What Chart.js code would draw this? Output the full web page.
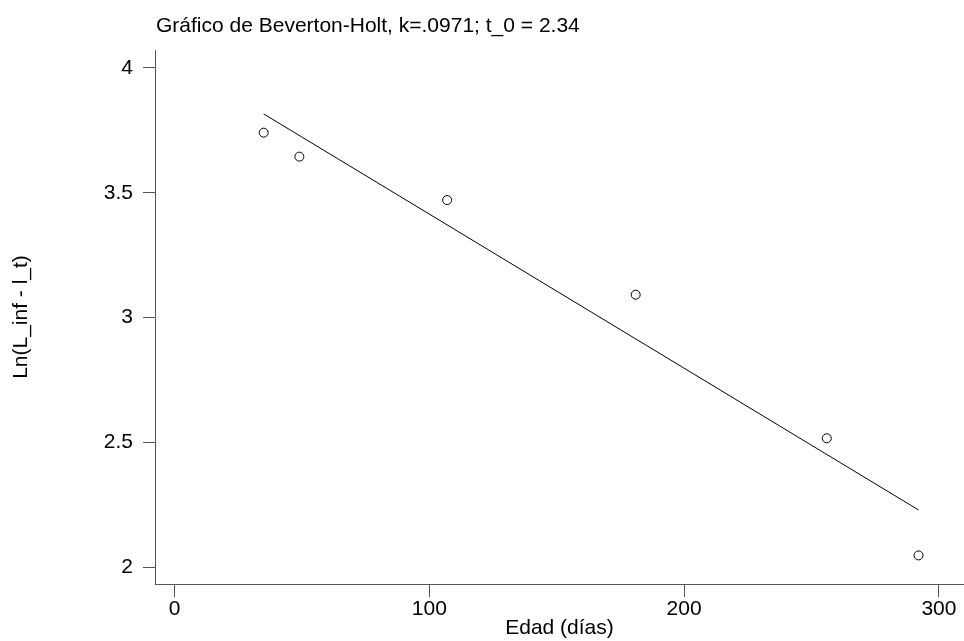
<!DOCTYPE html>
<html>
<head>
<meta charset="utf-8">
<script src="https://cdn.jsdelivr.net/npm/chart.js@4/dist/chart.umd.min.js"></script>
<style>
  html, body { margin: 0; padding: 0; background: #fff; }
</style>
</head>
<body>
<canvas id="chart" width="964" height="641"></canvas>
<script>
// observed ages and log residual lengths
const edad = [35, 49, 107, 181, 256, 292];
const lnResid = [3.741, 3.645, 3.471, 3.092, 2.517, 2.048];

// fitted line, end points
const fitEdad = [35, 292];
const fitLn = [3.816, 2.230];

const xTicks = [0, 100, 200, 300];
const yTicks = [2, 2.5, 3, 3.5, 4];

const titleText = 'Gráfico de Beverton-Holt, k=.0971; t_0 = 2.34';
const FONT = '"Liberation Sans", Arial, sans-serif';
const AXIS = '#555';

Chart.defaults.font.family = FONT;
Chart.defaults.font.size = 21;
Chart.defaults.color = '#000';

// title drawn top-left, above the plot region
const titlePlugin = {
  id: 'plotTitle',
  afterDraw(chart) {
    const ctx = chart.ctx;
    ctx.save();
    ctx.font = '21px ' + FONT;
    ctx.fillStyle = '#000';
    ctx.textAlign = 'left';
    ctx.textBaseline = 'alphabetic';
    ctx.fillText(titleText, 156, 32);
    ctx.restore();
  }
};

new Chart(document.getElementById('chart'), {
  type: 'scatter',
  data: {
    datasets: [
      {
        label: 'observado',
        data: edad.map((x, i) => ({ x, y: lnResid[i] })),
        pointStyle: 'circle',
        pointRadius: 4.5,
        pointBorderWidth: 1,
        pointBorderColor: '#000',
        pointBackgroundColor: 'rgba(0,0,0,0)',
        showLine: false
      },
      {
        label: 'ajuste',
        data: fitEdad.map((x, i) => ({ x, y: fitLn[i] })),
        showLine: true,
        borderColor: '#000',
        borderWidth: 1,
        pointRadius: 0
      }
    ]
  },
  options: {
    responsive: false,
    animation: false,
    layout: { autoPadding: false, padding: { top: 50, left: 0, right: 0, bottom: 0 } },
    plugins: {
      legend: { display: false },
      tooltip: { enabled: false }
    },
    scales: {
      x: {
        type: 'linear',
        min: -7.65,
        max: 309.85,
        afterBuildTicks: s => { s.ticks = xTicks.map(v => ({ value: v })); },
        afterFit: s => { s.height = 57; s.paddingLeft = 0; s.paddingRight = 0; },
        ticks: { padding: 0, maxRotation: 0, autoSkip: false, callback: v => String(v) },
        grid: { drawOnChartArea: false, drawTicks: true, tickLength: 13, tickColor: AXIS, color: AXIS },
        border: { display: true, color: AXIS, width: 1 },
        title: { display: true, text: 'Edad (días)', padding: { top: 0, bottom: 0 } }
      },
      y: {
        type: 'linear',
        min: 1.9335,
        max: 4.072,
        afterBuildTicks: s => { s.ticks = yTicks.map(v => ({ value: v })); },
        afterFit: s => { s.width = 155; s.paddingTop = 0; s.paddingBottom = 0; },
        ticks: { padding: 10, autoSkip: false, callback: v => String(v) },
        grid: { drawOnChartArea: false, drawTicks: true, tickLength: 12, tickColor: AXIS, color: AXIS },
        border: { display: true, color: AXIS, width: 1 },
        title: { display: true, text: 'Ln(L_inf - l_t)', padding: { top: 9, bottom: 0 } }
      }
    }
  },
  plugins: [titlePlugin]
});
</script>
</body>
</html>
